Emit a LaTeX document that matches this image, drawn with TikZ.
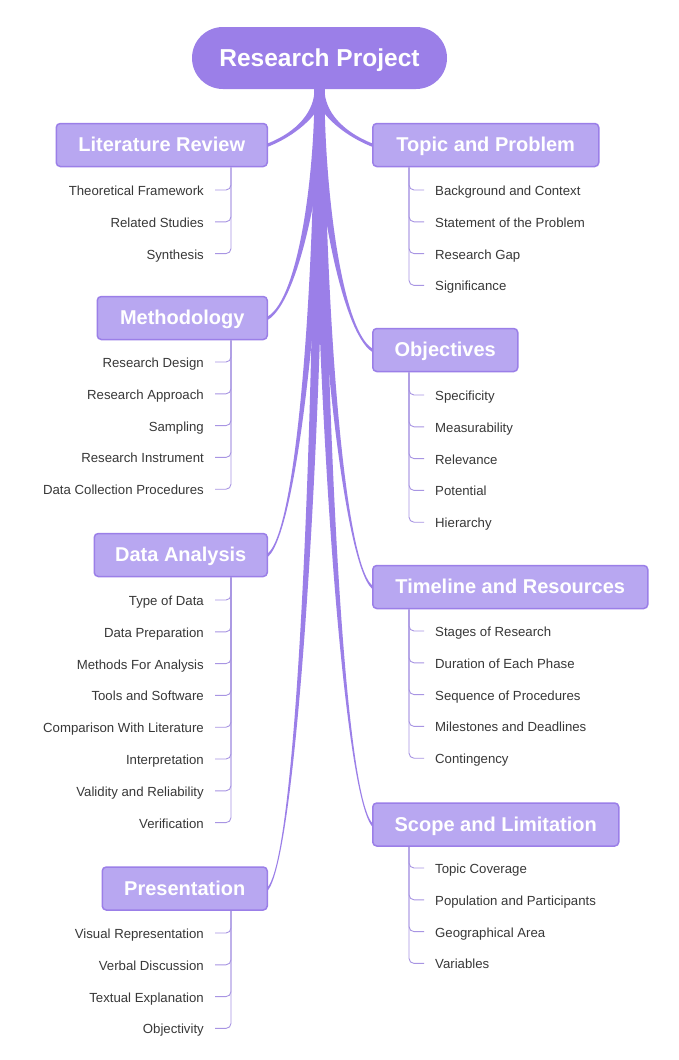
\documentclass[tikz,border=0pt]{standalone}
\usepackage{fontspec}
\setmainfont{Liberation Sans}
\usetikzlibrary{calc}
\definecolor{rootc}{HTML}{9B7FE8}
\definecolor{boxfill}{HTML}{B8A7F1}
\definecolor{boxdraw}{HTML}{9B7FE8}
\definecolor{connc}{HTML}{9B7FE8}
\definecolor{leafc}{HTML}{A895E3}
\definecolor{leaftext}{HTML}{383838}
\newcommand{\leftleaves}[3]{%
  \foreach \t [count=\i] in {#3}{
    \node[leaf, anchor=east] (#1\i) at (204,{#2+(\i-1)*31.8}) {\t};
    \draw[leafline] ([xshift=-37pt]#1.south east) |- ([xshift=11pt]#1\i.east);
  }}
\newcommand{\rightleaves}[3]{%
  \foreach \t [count=\i] in {#3}{
    \node[leaf, anchor=west] (#1\i) at (435,{#2+(\i-1)*31.8}) {\t};
    \draw[leafline] ([xshift=37pt]#1.south west) |- ([xshift=-11pt]#1\i.west);
  }}
\begin{document}
\begin{tikzpicture}[x=1pt,y=-1pt,
  rootbox/.style={fill=rootc, rounded corners=31pt, minimum width=255pt, minimum height=62pt, text=white, font=\fontsize{24.5}{28}\selectfont\bfseries, inner sep=0pt, text height=17.6pt, text depth=0pt},
  branchbox/.style={fill=boxfill, draw=boxdraw, line width=1.5pt, rounded corners=4pt, minimum height=43pt, text=white, font=\fontsize{20}{24}\selectfont\bfseries, inner sep=0pt, text height=15.5pt, text depth=2.5pt},
  leaf/.style={inner sep=0pt, text=leaftext, font=\fontsize{13.2}{15}\selectfont, text height=11.5pt, text depth=0.5pt},
  leafline/.style={draw=leafc, line width=0.9pt, rounded corners=5pt},
  conn/.style={fill=connc}]
\fill[white] (0,0) rectangle (678,1060);
\useasboundingbox (0,0) rectangle (678,1060);

\node[rootbox] (root) at (319.5,58) {Research Project};

\node[branchbox, minimum width=211pt, anchor=east] (lit) at (268,145) {Literature Review};
\node[branchbox, minimum width=226pt, anchor=west] (topic) at (372,145) {Topic and Problem};
\node[branchbox, minimum width=170pt, anchor=east] (meth) at (268,318) {Methodology};
\node[branchbox, minimum width=145pt, anchor=west] (obj) at (372,350) {Objectives};
\node[branchbox, minimum width=173pt, anchor=east] (data) at (268,555) {Data Analysis};
\node[branchbox, minimum width=275pt, anchor=west] (time) at (372,587) {Timeline and Resources};
\node[branchbox, minimum width=246pt, anchor=west] (scope) at (372,824.5) {Scope and Limitation};
\node[branchbox, minimum width=165pt, anchor=east] (pres) at (268,888.5) {Presentation};

\foreach \b/\anc/\sg in {lit/east/-1, topic/west/1, meth/east/-1, obj/west/1, data/east/-1, time/west/1, scope/west/1, pres/east/-1}{
  \fill[conn] let \p1=(root.south), \p2=(\b.\anc), \n1={\y1-\y2} in
    ({\x1-5pt},{\y1+3pt}) -- ({\x1-5pt},\y1)
    .. controls ({\x1-5pt},{\y1-0.39*\n1}) and ({\x2-(\sg)*30pt},{\y2+10pt+0.035*\n1-(\sg)*1.7pt})
    .. ({\x2},{\y2-(\sg)*1.7pt}) -- ({\x2},{\y2+(\sg)*1.7pt})
    .. controls ({\x2-(\sg)*30pt},{\y2+10pt+0.035*\n1+(\sg)*1.7pt}) and ({\x1+5pt},{\y1-0.39*\n1})
    .. ({\x1+5pt},\y1) -- ({\x1+5pt},{\y1+3pt}) -- cycle;
}

\leftleaves{lit}{190}{Theoretical Framework, Related Studies, Synthesis}
\rightleaves{topic}{190}{Background and Context, Statement of the Problem, Research Gap, Significance}
\leftleaves{meth}{362}{Research Design, Research Approach, Sampling, Research Instrument, Data Collection Procedures}
\rightleaves{obj}{395}{Specificity, Measurability, Relevance, Potential, Hierarchy}
\leftleaves{data}{600}{Type of Data, Data Preparation, Methods For Analysis, Tools and Software, Comparison With Literature, Interpretation, Validity and Reliability, Verification}
\rightleaves{time}{631}{Stages of Research, Duration of Each Phase, Sequence of Procedures, Milestones and Deadlines, Contingency}
\rightleaves{scope}{868}{Topic Coverage, Population and Participants, Geographical Area, Variables}
\leftleaves{pres}{933}{Visual Representation, Verbal Discussion, Textual Explanation, Objectivity}
\end{tikzpicture}
\end{document}
